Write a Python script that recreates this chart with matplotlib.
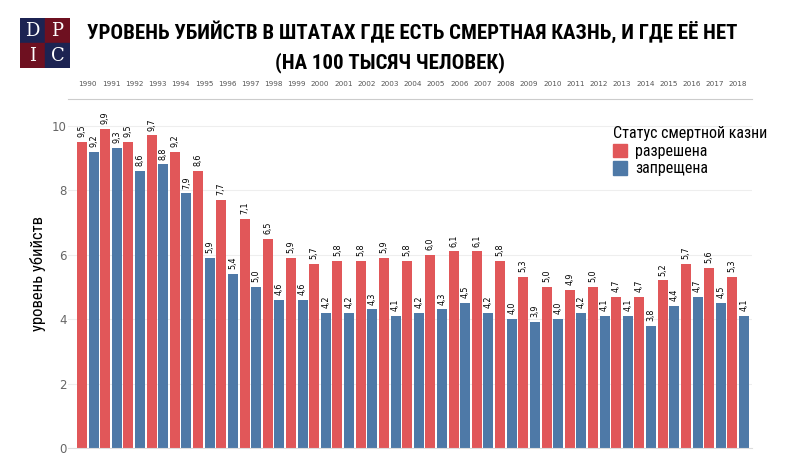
import numpy as np
import matplotlib.pyplot as plt
from matplotlib import font_manager
from matplotlib.patches import Patch, Rectangle

years = list(range(1990, 2019))
allowed = [9.5, 9.9, 9.5, 9.7, 9.2, 8.6, 7.7, 7.1, 6.5, 5.9, 5.7, 5.8, 5.8, 5.9, 5.8,
           6.0, 6.1, 6.1, 5.8, 5.3, 5.0, 4.9, 5.0, 4.7, 4.7, 5.2, 5.7, 5.6, 5.3]
banned = [9.2, 9.3, 8.6, 8.8, 7.9, 5.9, 5.4, 5.0, 4.6, 4.6, 4.2, 4.2, 4.3, 4.1, 4.2,
          4.3, 4.5, 4.2, 4.0, 3.9, 4.0, 4.2, 4.1, 4.1, 3.8, 4.4, 4.7, 4.5, 4.1]

RED = '#e15759'
BLUE = '#4e79a7'

# pick a narrow font if one is installed
names = {f.name for f in font_manager.fontManager.ttflist}
narrow = 'DejaVu Sans'
for cand in ['Roboto Condensed', 'Liberation Sans Narrow', 'DejaVu Sans Condensed']:
    if cand in names:
        narrow = cand
        break

fig = plt.figure(figsize=(7.96, 4.59), dpi=100)
W, H = 796, 459
ax = fig.add_axes([68 / W, (H - 448) / H, (752 - 68) / W, (448 - 99) / H])

x = np.arange(len(years))
ax.bar(2 * x, allowed, width=0.86, color=RED)
ax.bar(2 * x + 1, banned, width=0.86, color=BLUE)

for i in range(len(years)):
    ax.text(2 * i, allowed[i] + 0.15, f'{allowed[i]:.1f}'.replace('.', ','),
            rotation=90, ha='center', va='bottom', fontsize=5.8)
    ax.text(2 * i + 1, banned[i] + 0.15, f'{banned[i]:.1f}'.replace('.', ','),
            rotation=90, ha='center', va='bottom', fontsize=5.8)

ax.set_xlim(-1.2, 2 * len(years) - 0.31)
ax.set_ylim(0, 10.83)
ax.set_yticks([0, 2, 4, 6, 8, 10])
ax.tick_params(axis='y', length=0, labelsize=8.5, labelcolor='#666666', pad=1)
ax.yaxis.grid(True, color='#eeeeee', linewidth=0.8)
ax.set_axisbelow(True)

ax.xaxis.tick_top()
ax.set_xticks(2 * x + 0.5)
ax.set_xticklabels([str(y) for y in years], fontsize=5.2, color='#555555')
ax.tick_params(axis='x', length=0, pad=9)

for s in ['left', 'right']:
    ax.spines[s].set_visible(False)
ax.spines['top'].set_color('#cccccc')
ax.spines['bottom'].set_color('#dddddd')

ax.set_ylabel('уровень убийств', fontsize=12, family=narrow, labelpad=4)

leg = ax.legend(handles=[Patch(color=RED, label='разрешена'),
                         Patch(color=BLUE, label='запрещена')],
                title='Статус смертной казни', loc='upper left',
                bbox_to_anchor=(0.787, 0.94), frameon=False,
                prop={'family': narrow, 'size': 11.5}, handlelength=0.9,
                handleheight=0.9, handletextpad=0.5, labelspacing=0.15,
                borderaxespad=0, alignment='left')
leg.get_title().set_fontfamily(narrow)
leg.get_title().set_fontsize(11.5)

fig.text(412 / W, 1 - 32 / H, 'УРОВЕНЬ УБИЙСТВ В ШТАТАХ ГДЕ ЕСТЬ СМЕРТНАЯ КАЗНЬ, И ГДЕ ЕЁ НЕТ',
         ha='center', va='center', fontsize=15, weight='bold', family=narrow)
fig.text(390 / W, 1 - 63 / H, '(НА 100 ТЫСЯЧ ЧЕЛОВЕК)',
         ha='center', va='center', fontsize=15, weight='bold', family=narrow)

# DPIC logo
lg = fig.add_axes([20 / W, 1 - 68 / H, 50 / W, 50 / H])
lg.set_xlim(0, 2)
lg.set_ylim(0, 2)
lg.axis('off')
navy, maroon = '#1c2352', '#6e1020'
for (cx, cy, c, ch) in [(0, 1, navy, 'D'), (1, 1, maroon, 'P'),
                        (0, 0, maroon, 'I'), (1, 0, navy, 'C')]:
    lg.add_patch(Rectangle((cx, cy), 1, 1, color=c))
    lg.text(cx + 0.5, cy + 0.47, ch, color='white', ha='center', va='center',
            fontsize=13, family='DejaVu Serif')

fig.savefig('out.png', dpi=100)
